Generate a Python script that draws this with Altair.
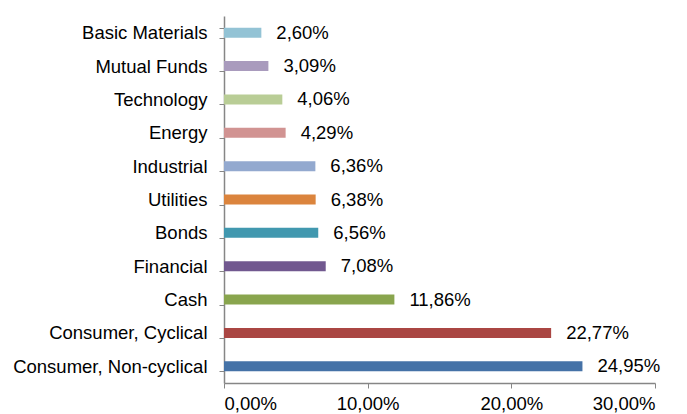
import altair as alt
import pandas as pd

categories = ["Basic Materials", "Mutual Funds", "Technology", "Energy", "Industrial",
              "Utilities", "Bonds", "Financial", "Cash", "Consumer, Cyclical",
              "Consumer, Non-cyclical"]
values = [2.60, 3.09, 4.06, 4.29, 6.36, 6.38, 6.56, 7.08, 11.86, 22.77, 24.95]
colors = ["#93C3D5", "#A99BBD", "#B9CD96", "#D19392", "#93A9CF", "#DB843D",
          "#4198AF", "#71588F", "#89A54E", "#AA4643", "#4572A7"]
x_ticks = [0, 10, 20, 30]

df = pd.DataFrame({"category": categories, "value": values, "color": colors})

FONT = "Liberation Sans"
FS = 18.5

base = alt.Chart(df).encode(
    y=alt.Y("category:N", sort=categories, title=None,
            scale=alt.Scale(paddingInner=0.7, paddingOuter=0.35),
            axis=alt.Axis(tickBand="extent", tickSize=5, tickColor="#868686",
                          domainColor="#868686", domainWidth=1.5,
                          labelFont=FONT, labelFontSize=FS, labelColor="#000000",
                          labelPadding=12, labelLimit=400)),
)

bars = base.mark_bar(size=10).encode(
    x=alt.X("value:Q", title=None,
            scale=alt.Scale(domain=[0, 30], nice=False),
            axis=alt.Axis(values=x_ticks, grid=False, tickSize=5, tickColor="#868686",
                          domainColor="#868686", domainWidth=1.5,
                          labelFont=FONT, labelFontSize=FS, labelColor="#000000",
                          labelPadding=6,
                          labelExpr="replace(format(datum.value, '.2f'), '.', ',') + '%'")),
    color=alt.Color("color:N", scale=None, legend=None),
)

labels = base.mark_text(align="left", baseline="middle", dx=15, font=FONT,
                        fontSize=FS, color="#000000").transform_calculate(
    label="replace(format(datum.value, '.2f'), '.', ',') + '%'"
).encode(
    x=alt.X("value:Q"),
    text="label:N",
)

chart = (bars + labels).properties(
    width=431, height=367,
    autosize=alt.AutoSizeParams(type="none"),
    padding={"left": 216, "top": 8, "right": 24, "bottom": 31},
).configure_view(stroke=None)

chart.save("out.html", embed_options={"renderer": "svg", "actions": False})
